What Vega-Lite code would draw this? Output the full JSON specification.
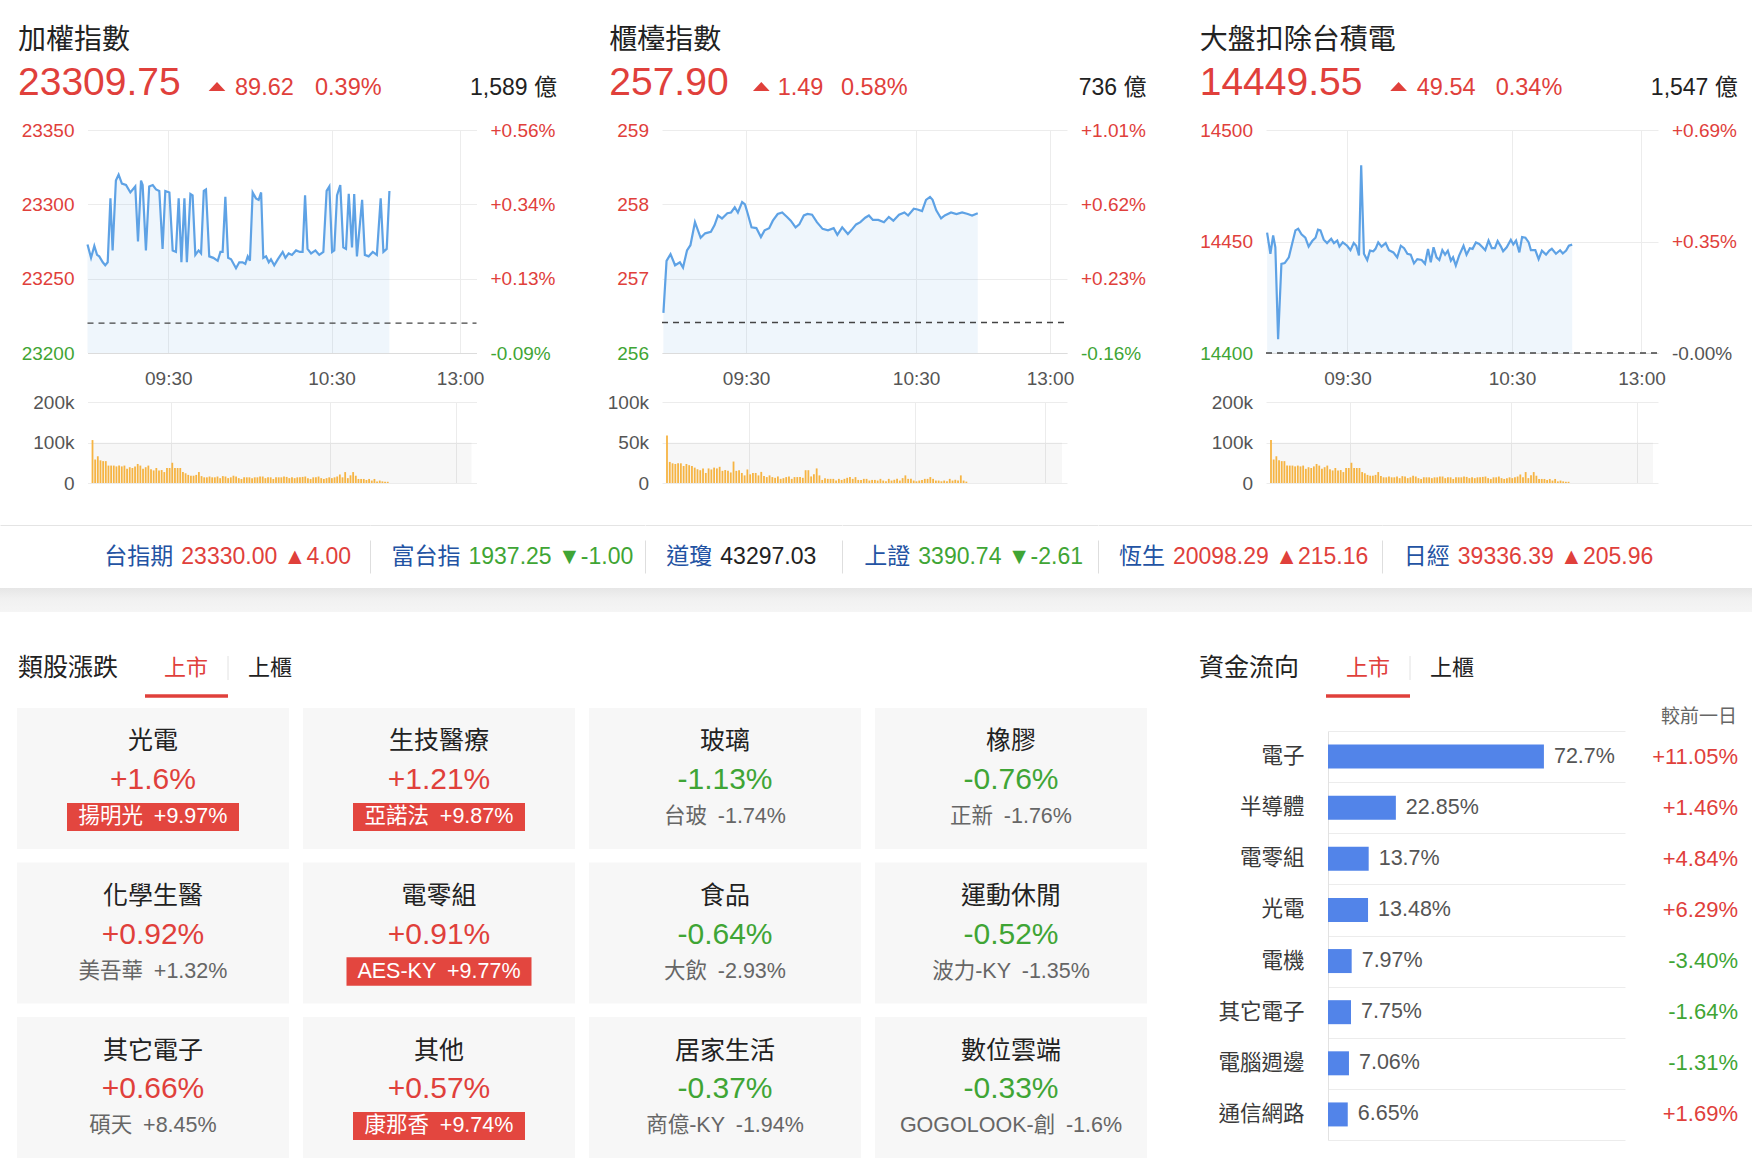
{
"$schema": "https://vega.github.io/schema/vega-lite/v6.json",
"padding": 0, "background": "#ffffff", "autosize": {"type": "pad"},
"bounds": "full", "spacing": 0,
"config": {"view": {"stroke": null}, "font": "Liberation Sans, Noto Sans CJK TC, sans-serif", "text": {"font": "Liberation Sans, Noto Sans CJK TC, sans-serif"}, "axis": {"labelFont": "Liberation Sans, Noto Sans CJK TC, sans-serif", "titleFont": "Liberation Sans, Noto Sans CJK TC, sans-serif"}},
"datasets": {
"p1": [{"m":0,"v":23273},{"m":1.3,"v":23264},{"m":2.5,"v":23272},{"m":3.5,"v":23266},{"m":4.3,"v":23265},{"m":5.6,"v":23261},{"m":6.5,"v":23259},{"m":7.4,"v":23261},{"m":8.4,"v":23304},{"m":9.2,"v":23269},{"m":10.4,"v":23316},{"m":11.4,"v":23320},{"m":12.6,"v":23314},{"m":14.1,"v":23313},{"m":15.7,"v":23308},{"m":17.5,"v":23312},{"m":18.5,"v":23275},{"m":19.6,"v":23316},{"m":20.2,"v":23313},{"m":21.4,"v":23269},{"m":22.6,"v":23312},{"m":23.9,"v":23313},{"m":25.1,"v":23310},{"m":26.3,"v":23309},{"m":27.5,"v":23270},{"m":28.5,"v":23309},{"m":30,"v":23308},{"m":31.2,"v":23269},{"m":32.4,"v":23268},{"m":33.4,"v":23304},{"m":34.4,"v":23261},{"m":35.5,"v":23304},{"m":36.4,"v":23261},{"m":37.7,"v":23307},{"m":38.5,"v":23306},{"m":39.5,"v":23266},{"m":40.7,"v":23269},{"m":41.6,"v":23267},{"m":42.6,"v":23309},{"m":43.4,"v":23310},{"m":44.6,"v":23265},{"m":46.1,"v":23264},{"m":47.7,"v":23262},{"m":48.7,"v":23268},{"m":49.5,"v":23268},{"m":50.5,"v":23305},{"m":51.5,"v":23264},{"m":52.6,"v":23263},{"m":54.4,"v":23257},{"m":55.6,"v":23261},{"m":56.8,"v":23261},{"m":57.8,"v":23260},{"m":58.7,"v":23265},{"m":59.5,"v":23262},{"m":60.5,"v":23308},{"m":61.7,"v":23304},{"m":62.7,"v":23303},{"m":63.6,"v":23308},{"m":64.4,"v":23264},{"m":65.4,"v":23265},{"m":66.4,"v":23261},{"m":67.2,"v":23263},{"m":68.4,"v":23259},{"m":69.7,"v":23263},{"m":71.5,"v":23268},{"m":72.5,"v":23264},{"m":73.7,"v":23267},{"m":74.9,"v":23266},{"m":76.4,"v":23269},{"m":77.8,"v":23268},{"m":78.8,"v":23268},{"m":79.7,"v":23306},{"m":80.6,"v":23270},{"m":81.9,"v":23267},{"m":83.5,"v":23269},{"m":84.9,"v":23266},{"m":86.4,"v":23268},{"m":87.6,"v":23309},{"m":88.6,"v":23312},{"m":89.6,"v":23268},{"m":90.4,"v":23269},{"m":91.4,"v":23306},{"m":92.6,"v":23313},{"m":93.7,"v":23271},{"m":94.7,"v":23270},{"m":95.7,"v":23307},{"m":96.9,"v":23271},{"m":97.7,"v":23307},{"m":98.7,"v":23265},{"m":100.6,"v":23303},{"m":101.6,"v":23266},{"m":103,"v":23265},{"m":104.5,"v":23268},{"m":106,"v":23266},{"m":107.4,"v":23304},{"m":108.4,"v":23268},{"m":109.6,"v":23270},{"m":110.6,"v":23309}],
"p2": [{"m":0.5,"v":256.54},{"m":1.6,"v":257.24},{"m":3,"v":257.33},{"m":4.6,"v":257.18},{"m":6.3,"v":257.22},{"m":7.4,"v":257.15},{"m":8.8,"v":257.38},{"m":10,"v":257.45},{"m":11.6,"v":257.76},{"m":13.6,"v":257.55},{"m":15.2,"v":257.61},{"m":17.2,"v":257.63},{"m":18.5,"v":257.72},{"m":19.7,"v":257.85},{"m":21.1,"v":257.81},{"m":23,"v":257.88},{"m":24.3,"v":257.89},{"m":25.6,"v":257.96},{"m":26.7,"v":257.89},{"m":28.2,"v":258.03},{"m":29.2,"v":258.0},{"m":30.2,"v":257.87},{"m":31.5,"v":257.69},{"m":33.2,"v":257.68},{"m":34.8,"v":257.56},{"m":36.1,"v":257.65},{"m":37.7,"v":257.68},{"m":39,"v":257.78},{"m":40.7,"v":257.87},{"m":42.3,"v":257.89},{"m":44,"v":257.83},{"m":45.3,"v":257.78},{"m":47,"v":257.69},{"m":48.3,"v":257.73},{"m":49.9,"v":257.85},{"m":51.2,"v":257.87},{"m":52.8,"v":257.86},{"m":54.5,"v":257.76},{"m":56.5,"v":257.67},{"m":58.4,"v":257.65},{"m":60.4,"v":257.68},{"m":61.7,"v":257.59},{"m":63.4,"v":257.69},{"m":65.4,"v":257.6},{"m":67,"v":257.67},{"m":68.3,"v":257.73},{"m":69.8,"v":257.76},{"m":71.5,"v":257.82},{"m":72.8,"v":257.85},{"m":74.2,"v":257.79},{"m":76.1,"v":257.79},{"m":78.1,"v":257.76},{"m":79.8,"v":257.83},{"m":81.4,"v":257.78},{"m":83.4,"v":257.86},{"m":85.3,"v":257.89},{"m":86.6,"v":257.85},{"m":88.6,"v":257.94},{"m":89.9,"v":257.93},{"m":91.5,"v":257.91},{"m":92.9,"v":258.06},{"m":94.3,"v":258.1},{"m":95.2,"v":258.06},{"m":96.5,"v":257.92},{"m":98.2,"v":257.81},{"m":99.5,"v":257.85},{"m":101.7,"v":257.89},{"m":103.6,"v":257.87},{"m":105.6,"v":257.89},{"m":107.6,"v":257.87},{"m":109.1,"v":257.85},{"m":111.1,"v":257.88}],
"p3": [{"m":0.4,"v":14454},{"m":1.6,"v":14444.5},{"m":2.6,"v":14452.7},{"m":3.4,"v":14447.4},{"m":4.4,"v":14406.2},{"m":5.6,"v":14440},{"m":6.8,"v":14440.3},{"m":8.3,"v":14442.9},{"m":9.5,"v":14449},{"m":10.7,"v":14455},{"m":11.7,"v":14455.7},{"m":12.9,"v":14453.2},{"m":14.3,"v":14451.7},{"m":15.5,"v":14447.7},{"m":16.8,"v":14450.2},{"m":18,"v":14451.7},{"m":18.9,"v":14455.3},{"m":19.8,"v":14455},{"m":21,"v":14450.8},{"m":22.2,"v":14449.3},{"m":23.7,"v":14451.2},{"m":24.7,"v":14449.3},{"m":25.9,"v":14450.4},{"m":26.7,"v":14447.7},{"m":27.9,"v":14449.6},{"m":29.5,"v":14448.1},{"m":30.7,"v":14446.1},{"m":31.9,"v":14449.3},{"m":32.8,"v":14448.1},{"m":33.8,"v":14443.7},{"m":34.6,"v":14484.2},{"m":35.6,"v":14444.5},{"m":36.8,"v":14441.7},{"m":37.8,"v":14445.9},{"m":39,"v":14445.6},{"m":39.8,"v":14446.7},{"m":40.8,"v":14449.6},{"m":42,"v":14447.7},{"m":43.5,"v":14449.3},{"m":44.7,"v":14446.1},{"m":46.3,"v":14445.1},{"m":47.7,"v":14442.9},{"m":49,"v":14448.1},{"m":50.2,"v":14447},{"m":51.4,"v":14444.5},{"m":52.6,"v":14444.1},{"m":53.8,"v":14440.2},{"m":55,"v":14442.1},{"m":56.6,"v":14441.7},{"m":57.8,"v":14440},{"m":58.9,"v":14446.7},{"m":59.9,"v":14440.7},{"m":60.9,"v":14447.4},{"m":62,"v":14442.9},{"m":63,"v":14441.7},{"m":64.1,"v":14446.1},{"m":65.1,"v":14444.1},{"m":66.1,"v":14445.9},{"m":67.2,"v":14441.4},{"m":68,"v":14442.9},{"m":69,"v":14439.2},{"m":70.2,"v":14443.7},{"m":71.8,"v":14448.1},{"m":72.9,"v":14444.1},{"m":74.1,"v":14447},{"m":75.1,"v":14446.7},{"m":76.3,"v":14449.6},{"m":77.5,"v":14448.9},{"m":78.7,"v":14447.4},{"m":79.7,"v":14446.1},{"m":80.9,"v":14450.4},{"m":82.1,"v":14447},{"m":83.2,"v":14447},{"m":84.2,"v":14450.2},{"m":85.4,"v":14447.7},{"m":86.2,"v":14445.6},{"m":87.5,"v":14447.4},{"m":89,"v":14450.8},{"m":89.9,"v":14448.7},{"m":90.9,"v":14450.4},{"m":92.1,"v":14445.1},{"m":93.1,"v":14452},{"m":94.3,"v":14451.7},{"m":95.5,"v":14449.6},{"m":96.3,"v":14446.1},{"m":97.9,"v":14446.1},{"m":99.1,"v":14442.1},{"m":100.3,"v":14445.9},{"m":101.8,"v":14444.1},{"m":103,"v":14445.9},{"m":103.9,"v":14446.7},{"m":105.4,"v":14444.5},{"m":106.9,"v":14446.1},{"m":107.9,"v":14444.6},{"m":109.1,"v":14445.9},{"m":110.1,"v":14448.1},{"m":111.3,"v":14448.6}],
"vol1": [{"m":0,"k":106},{"m":1,"k":58},{"m":2,"k":66},{"m":3,"k":56},{"m":4,"k":54},{"m":5,"k":54},{"m":6,"k":43},{"m":7,"k":43},{"m":8,"k":43},{"m":9,"k":41},{"m":10,"k":43},{"m":11,"k":41},{"m":12,"k":43},{"m":13,"k":35},{"m":14,"k":39},{"m":15,"k":37},{"m":16,"k":41},{"m":17,"k":47},{"m":18,"k":43},{"m":19,"k":35},{"m":20,"k":39},{"m":21,"k":43},{"m":22,"k":34},{"m":23,"k":31},{"m":24,"k":37},{"m":25,"k":31},{"m":26,"k":32},{"m":27,"k":27},{"m":28,"k":37},{"m":29,"k":37},{"m":30,"k":50},{"m":31,"k":37},{"m":32,"k":37},{"m":33,"k":37},{"m":34,"k":27},{"m":35,"k":24},{"m":36,"k":20},{"m":37,"k":18},{"m":38,"k":18},{"m":39,"k":20},{"m":40,"k":27},{"m":41,"k":17},{"m":42,"k":14},{"m":43,"k":14},{"m":44,"k":16},{"m":45,"k":14},{"m":46,"k":14},{"m":47,"k":16},{"m":48,"k":12},{"m":49,"k":17},{"m":50,"k":16},{"m":51,"k":12},{"m":52,"k":14},{"m":53,"k":18},{"m":54,"k":16},{"m":55,"k":12},{"m":56,"k":10},{"m":57,"k":14},{"m":58,"k":14},{"m":59,"k":14},{"m":60,"k":12},{"m":61,"k":14},{"m":62,"k":14},{"m":63,"k":16},{"m":64,"k":16},{"m":65,"k":12},{"m":66,"k":14},{"m":67,"k":14},{"m":68,"k":10},{"m":69,"k":14},{"m":70,"k":14},{"m":71,"k":14},{"m":72,"k":16},{"m":73,"k":15},{"m":74,"k":12},{"m":75,"k":14},{"m":76,"k":12},{"m":77,"k":14},{"m":78,"k":14},{"m":79,"k":15},{"m":80,"k":16},{"m":81,"k":12},{"m":82,"k":10},{"m":83,"k":14},{"m":84,"k":14},{"m":85,"k":16},{"m":86,"k":12},{"m":87,"k":10},{"m":88,"k":12},{"m":89,"k":14},{"m":90,"k":12},{"m":91,"k":14},{"m":92,"k":16},{"m":93,"k":21},{"m":94,"k":14},{"m":95,"k":27},{"m":96,"k":12},{"m":97,"k":19},{"m":98,"k":27},{"m":99,"k":18},{"m":100,"k":10},{"m":101,"k":10},{"m":102,"k":10},{"m":103,"k":7.5},{"m":104,"k":10},{"m":105,"k":6},{"m":106,"k":10},{"m":107,"k":4},{"m":108,"k":6},{"m":109,"k":4},{"m":110,"k":3},{"m":111,"k":3}],
"vol2": [{"m":0,"k":58.5},{"m":1,"k":26},{"m":2,"k":24.3},{"m":3,"k":23.5},{"m":4,"k":24.3},{"m":5,"k":24.3},{"m":6,"k":21},{"m":7,"k":23.5},{"m":8,"k":22},{"m":9,"k":21},{"m":10,"k":19},{"m":11,"k":17},{"m":12,"k":15.8},{"m":13,"k":18},{"m":14,"k":12.4},{"m":15,"k":18},{"m":16,"k":16.7},{"m":17,"k":19},{"m":18,"k":18},{"m":19,"k":20},{"m":20,"k":15},{"m":21,"k":16},{"m":22,"k":15},{"m":23,"k":13},{"m":24,"k":26.5},{"m":25,"k":15},{"m":26,"k":15.8},{"m":27,"k":12.4},{"m":28,"k":9.4},{"m":29,"k":16.7},{"m":30,"k":10.7},{"m":31,"k":12.4},{"m":32,"k":12.4},{"m":33,"k":9.4},{"m":34,"k":13.7},{"m":35,"k":8.5},{"m":36,"k":7.3},{"m":37,"k":9.4},{"m":38,"k":7.3},{"m":39,"k":6.4},{"m":40,"k":8.1},{"m":41,"k":5.1},{"m":42,"k":6},{"m":43,"k":7.3},{"m":44,"k":8.1},{"m":45,"k":5.1},{"m":46,"k":7.3},{"m":47,"k":7.3},{"m":48,"k":7.3},{"m":49,"k":6.4},{"m":50,"k":15.8},{"m":51,"k":15.8},{"m":52,"k":8.1},{"m":53,"k":10.7},{"m":54,"k":18},{"m":55,"k":9.4},{"m":56,"k":3.8},{"m":57,"k":6},{"m":58,"k":5.1},{"m":59,"k":5.1},{"m":60,"k":5.1},{"m":61,"k":3},{"m":62,"k":5.1},{"m":63,"k":3.8},{"m":64,"k":5.1},{"m":65,"k":6.4},{"m":66,"k":7.3},{"m":67,"k":5.1},{"m":68,"k":7.3},{"m":69,"k":3.8},{"m":70,"k":3.8},{"m":71,"k":5.1},{"m":72,"k":5.1},{"m":73,"k":3},{"m":74,"k":3.8},{"m":75,"k":3.8},{"m":76,"k":3},{"m":77,"k":5.1},{"m":78,"k":3},{"m":79,"k":2.1},{"m":80,"k":5.1},{"m":81,"k":3},{"m":82,"k":4},{"m":83,"k":5.1},{"m":84,"k":3},{"m":85,"k":6},{"m":86,"k":9.4},{"m":87,"k":5.1},{"m":88,"k":5.1},{"m":89,"k":3},{"m":90,"k":2.1},{"m":91,"k":3},{"m":92,"k":3.8},{"m":93,"k":5.1},{"m":94,"k":5.1},{"m":95,"k":7.3},{"m":96,"k":5.1},{"m":97,"k":3},{"m":98,"k":3},{"m":99,"k":2.1},{"m":100,"k":3},{"m":101,"k":2.1},{"m":102,"k":5.1},{"m":103,"k":3},{"m":104,"k":4},{"m":105,"k":3},{"m":106,"k":9.4},{"m":107,"k":3},{"m":108,"k":1.7}],
"sectors": [
{"name":"光電","pct":1.6,"pl":"+1.6%","lead":"揚明光\u2002+9.97%","box":true},
{"name":"生技醫療","pct":1.21,"pl":"+1.21%","lead":"亞諾法\u2002+9.87%","box":true},
{"name":"玻璃","pct":-1.13,"pl":"-1.13%","lead":"台玻\u2002-1.74%","box":false},
{"name":"橡膠","pct":-0.76,"pl":"-0.76%","lead":"正新\u2002-1.76%","box":false},
{"name":"化學生醫","pct":0.92,"pl":"+0.92%","lead":"美吾華\u2002+1.32%","box":false},
{"name":"電零組","pct":0.91,"pl":"+0.91%","lead":"AES-KY\u2002+9.77%","box":true},
{"name":"食品","pct":-0.64,"pl":"-0.64%","lead":"大飲\u2002-2.93%","box":false},
{"name":"運動休閒","pct":-0.52,"pl":"-0.52%","lead":"波力-KY\u2002-1.35%","box":false},
{"name":"其它電子","pct":0.66,"pl":"+0.66%","lead":"碩天\u2002+8.45%","box":false},
{"name":"其他","pct":0.57,"pl":"+0.57%","lead":"康那香\u2002+9.74%","box":true},
{"name":"居家生活","pct":-0.37,"pl":"-0.37%","lead":"商億-KY\u2002-1.94%","box":false},
{"name":"數位雲端","pct":-0.33,"pl":"-0.33%","lead":"GOGOLOOK-創\u2002-1.6%","box":false}],
"flow": [
{"s":"電子","share":72.7,"sl":"72.7%","chg":11.05,"cl":"+11.05%"},
{"s":"半導體","share":22.85,"sl":"22.85%","chg":1.46,"cl":"+1.46%"},
{"s":"電零組","share":13.7,"sl":"13.7%","chg":4.84,"cl":"+4.84%"},
{"s":"光電","share":13.48,"sl":"13.48%","chg":6.29,"cl":"+6.29%"},
{"s":"電機","share":7.97,"sl":"7.97%","chg":-3.4,"cl":"-3.40%"},
{"s":"其它電子","share":7.75,"sl":"7.75%","chg":-1.64,"cl":"-1.64%"},
{"s":"電腦週邊","share":7.06,"sl":"7.06%","chg":-1.31,"cl":"-1.31%"},
{"s":"通信網路","share":6.65,"sl":"6.65%","chg":1.69,"cl":"+1.69%"}]
},
"vconcat": [
{"hconcat": [
 {"vconcat": [
  {"width": 584, "height": 223, "resolve": {"axis": {"y": "independent"}}, "layer": [
   {"data": {"name": "p1"}, "mark": {"type": "area", "color": "#5ea2e5", "opacity": 0.1}, "encoding": {
     "x": {"field": "m", "type": "quantitative", "scale": {"domain": [0, 142.5], "range": [87.5, 476.5], "nice": false, "zero": false}, "axis": {"values": [29.6, 89.4, 136.5], "labelExpr": "datum.value < 50 ? '09:30' : datum.value < 100 ? '10:30' : '13:00'", "title": null, "ticks": false, "domain": true, "domainColor": "#dcdcdc", "grid": true, "gridColor": "#ececec", "labelFontSize": 19, "labelColor": "#555555", "labelPadding": 16, "labelFlush": false, "labelOverlap": false}},
     "y": {"field": "v", "type": "quantitative", "scale": {"domain": [23200, 23350], "nice": false, "zero": false}, "axis": {"orient": "left", "offset": -87.5, "values": [23200, 23250, 23300, 23350], "format": "d", "title": null, "ticks": false, "domain": false, "grid": true, "gridColor": "#ececec", "labelFontSize": 19, "labelPadding": 13.5, "labelOverlap": false, "labelColor": {"condition": {"test": "datum.value < 23220.13", "value": "#3fa535"}, "value": "#e0403b"}}},
     "y2": {"datum": 23200}}},
   {"data": {"name": "p1"}, "mark": {"type": "line", "color": "#5ea2e5", "strokeWidth": 2.2}, "encoding": {
     "x": {"field": "m", "type": "quantitative"},
     "y": {"field": "v", "type": "quantitative", "scale": {"domain": [23200, 23350], "nice": false, "zero": false}, "axis": {"orient": "right", "offset": -107.5, "values": [23200, 23250, 23300, 23350], "title": null, "ticks": false, "domain": false, "grid": false, "labelFontSize": 19, "labelPadding": 13.5, "labelOverlap": false, "labelExpr": "replace(format((datum.value - 23220.13) / 23220.13 * 100, '+.2f'), '\u2212', '-') + '%'", "labelColor": {"condition": {"test": "datum.value < 23220.13", "value": "#3fa535"}, "value": "#e0403b"}}}}},
   {"data": {"values": [{}]}, "mark": {"type": "rule", "color": "#444444", "strokeDash": [6, 5], "strokeWidth": 1.3}, "encoding": {"x": {"datum": 0}, "x2": {"datum": 142.5}, "y": {"datum": 23220.13, "axis": null}}},
   {"data": {"values": [{}]}, "mark": {"type": "rule", "opacity": 0}, "encoding": {"x": {"value": 0}, "x2": {"value": 10}, "y": {"value": -130}}},
   {"data": {"values": [{"t": "加權指數"}]}, "mark": {"type": "text", "align": "left", "baseline": "middle", "fontSize": 28, "color": "#222222"}, "encoding": {"text": {"field": "t"}, "x": {"value": 18}, "y": {"value": -89}}},
   {"data": {"values": [{"t": "23309.75"}]}, "mark": {"type": "text", "align": "left", "baseline": "alphabetic", "fontSize": 39, "color": "#e0403b"}, "encoding": {"text": {"field": "t"}, "x": {"value": 18}, "y": {"value": -35}}},
   {"data": {"values": [{}]}, "mark": {"type": "point", "shape": "M-1,0.55L0,-0.55L1,0.55Z", "size": 280, "filled": true, "opacity": 1, "color": "#e0403b", "strokeWidth": 0}, "encoding": {"x": {"value": 217}, "y": {"value": -43.5}}},
   {"data": {"values": [{"t": "89.62"}]}, "mark": {"type": "text", "align": "left", "baseline": "alphabetic", "fontSize": 23.5, "color": "#e0403b"}, "encoding": {"text": {"field": "t"}, "x": {"value": 235}, "y": {"value": -35}}},
   {"data": {"values": [{"t": "0.39%"}]}, "mark": {"type": "text", "align": "left", "baseline": "alphabetic", "fontSize": 23.5, "color": "#e0403b"}, "encoding": {"text": {"field": "t"}, "x": {"value": 315}, "y": {"value": -35}}},
   {"data": {"values": [{"t": "1,589 億"}]}, "mark": {"type": "text", "align": "right", "baseline": "alphabetic", "fontSize": 23, "color": "#222222"}, "encoding": {"text": {"field": "t"}, "x": {"value": 557}, "y": {"value": -35}}}
  ]},
  {"width": 584, "height": 81, "layer": [
   {"data": {"values": [{}]}, "mark": {"type": "rect", "color": "#000000", "opacity": 0.03}, "encoding": {
     "x": {"datum": 0, "type": "quantitative", "scale": {"domain": [0, 142.5], "range": [87.5, 476.5], "nice": false, "zero": false}, "axis": {"values": [29.6, 89.4, 136.5], "labels": false, "ticks": false, "domain": false, "grid": true, "gridColor": "#ececec", "title": null}},
     "x2": {"datum": 142.5},
     "y": {"datum": 0, "type": "quantitative", "scale": {"domain": [0, 200], "nice": false}, "axis": {"offset": -87.5, "values": [0, 100, 200], "labelExpr": "datum.value == 0 ? '0' : datum.value + 'k'", "title": null, "ticks": false, "domain": false, "grid": true, "gridColor": "#ececec", "labelFontSize": 19, "labelColor": "#555555", "labelPadding": 13.5, "labelOverlap": false}},
     "y2": {"datum": 100}}},
   {"data": {"name": "vol1"}, "mark": {"type": "bar", "color": "#f6b443", "width": 1.8}, "encoding": {"x": {"field": "m", "type": "quantitative"}, "y": {"field": "k", "type": "quantitative"}}},
   {"data": {"values": [{}]}, "mark": {"type": "rule", "opacity": 0}, "encoding": {"x": {"value": 0}, "x2": {"value": 10}, "y": {"value": 123}}}
  ]}
 ], "spacing": 49, "bounds": "flush"},
 {"vconcat": [
  {"width": 584, "height": 223, "resolve": {"axis": {"y": "independent"}}, "layer": [
   {"data": {"name": "p2"}, "mark": {"type": "area", "color": "#5ea2e5", "opacity": 0.1}, "encoding": {
     "x": {"field": "m", "type": "quantitative", "scale": {"domain": [0, 142.5], "range": [78, 483], "nice": false, "zero": false}, "axis": {"values": [29.6, 89.4, 136.5], "labelExpr": "datum.value < 50 ? '09:30' : datum.value < 100 ? '10:30' : '13:00'", "title": null, "ticks": false, "domain": true, "domainColor": "#dcdcdc", "grid": true, "gridColor": "#ececec", "labelFontSize": 19, "labelColor": "#555555", "labelPadding": 16, "labelFlush": false, "labelOverlap": false}},
     "y": {"field": "v", "type": "quantitative", "scale": {"domain": [256, 259], "nice": false, "zero": false}, "axis": {"orient": "left", "offset": -78, "values": [256, 257, 258, 259], "format": "d", "title": null, "ticks": false, "domain": false, "grid": true, "gridColor": "#ececec", "labelFontSize": 19, "labelPadding": 13.5, "labelOverlap": false, "labelColor": {"condition": {"test": "datum.value < 256.41", "value": "#3fa535"}, "value": "#e0403b"}}},
     "y2": {"datum": 256}}},
   {"data": {"name": "p2"}, "mark": {"type": "line", "color": "#5ea2e5", "strokeWidth": 2.2}, "encoding": {
     "x": {"field": "m", "type": "quantitative"},
     "y": {"field": "v", "type": "quantitative", "scale": {"domain": [256, 259], "nice": false, "zero": false}, "axis": {"orient": "right", "offset": -101, "values": [256, 257, 258, 259], "title": null, "ticks": false, "domain": false, "grid": false, "labelFontSize": 19, "labelPadding": 13.5, "labelOverlap": false, "labelExpr": "replace(format((datum.value - 256.41) / 256.41 * 100, '+.2f'), '\u2212', '-') + '%'", "labelColor": {"condition": {"test": "datum.value < 256.41", "value": "#3fa535"}, "value": "#e0403b"}}}}},
   {"data": {"values": [{}]}, "mark": {"type": "rule", "color": "#444444", "strokeDash": [6, 5], "strokeWidth": 1.3}, "encoding": {"x": {"datum": 0}, "x2": {"datum": 142.5}, "y": {"datum": 256.41, "axis": null}}},
   {"data": {"values": [{}]}, "mark": {"type": "rule", "opacity": 0}, "encoding": {"x": {"value": 0}, "x2": {"value": 10}, "y": {"value": -130}}},
   {"data": {"values": [{"t": "櫃檯指數"}]}, "mark": {"type": "text", "align": "left", "baseline": "middle", "fontSize": 28, "color": "#222222"}, "encoding": {"text": {"field": "t"}, "x": {"value": 25.3}, "y": {"value": -89}}},
   {"data": {"values": [{"t": "257.90"}]}, "mark": {"type": "text", "align": "left", "baseline": "alphabetic", "fontSize": 39, "color": "#e0403b"}, "encoding": {"text": {"field": "t"}, "x": {"value": 25.3}, "y": {"value": -35}}},
   {"data": {"values": [{}]}, "mark": {"type": "point", "shape": "M-1,0.55L0,-0.55L1,0.55Z", "size": 280, "filled": true, "opacity": 1, "color": "#e0403b", "strokeWidth": 0}, "encoding": {"x": {"value": 177.3}, "y": {"value": -43.5}}},
   {"data": {"values": [{"t": "1.49"}]}, "mark": {"type": "text", "align": "left", "baseline": "alphabetic", "fontSize": 23.5, "color": "#e0403b"}, "encoding": {"text": {"field": "t"}, "x": {"value": 193.7}, "y": {"value": -35}}},
   {"data": {"values": [{"t": "0.58%"}]}, "mark": {"type": "text", "align": "left", "baseline": "alphabetic", "fontSize": 23.5, "color": "#e0403b"}, "encoding": {"text": {"field": "t"}, "x": {"value": 257}, "y": {"value": -35}}},
   {"data": {"values": [{"t": "736 億"}]}, "mark": {"type": "text", "align": "right", "baseline": "alphabetic", "fontSize": 23, "color": "#222222"}, "encoding": {"text": {"field": "t"}, "x": {"value": 562.4}, "y": {"value": -35}}}
  ]},
  {"width": 584, "height": 81, "layer": [
   {"data": {"values": [{}]}, "mark": {"type": "rect", "color": "#000000", "opacity": 0.03}, "encoding": {
     "x": {"datum": 0, "type": "quantitative", "scale": {"domain": [0, 142.5], "range": [78, 483], "nice": false, "zero": false}, "axis": {"values": [29.6, 89.4, 136.5], "labels": false, "ticks": false, "domain": false, "grid": true, "gridColor": "#ececec", "title": null}},
     "x2": {"datum": 142.5},
     "y": {"datum": 0, "type": "quantitative", "scale": {"domain": [0, 100], "nice": false}, "axis": {"offset": -78, "values": [0, 50, 100], "labelExpr": "datum.value == 0 ? '0' : datum.value + 'k'", "title": null, "ticks": false, "domain": false, "grid": true, "gridColor": "#ececec", "labelFontSize": 19, "labelColor": "#555555", "labelPadding": 13.5, "labelOverlap": false}},
     "y2": {"datum": 50}}},
   {"data": {"name": "vol2"}, "mark": {"type": "bar", "color": "#f6b443", "width": 1.8}, "encoding": {"x": {"field": "m", "type": "quantitative"}, "y": {"field": "k", "type": "quantitative"}}},
   {"data": {"values": [{}]}, "mark": {"type": "rule", "opacity": 0}, "encoding": {"x": {"value": 0}, "x2": {"value": 10}, "y": {"value": 123}}}
  ]}
 ], "spacing": 49, "bounds": "flush"},
 {"vconcat": [
  {"width": 584, "height": 223, "resolve": {"axis": {"y": "independent"}}, "layer": [
   {"data": {"name": "p3"}, "mark": {"type": "area", "color": "#5ea2e5", "opacity": 0.1}, "encoding": {
     "x": {"field": "m", "type": "quantitative", "scale": {"domain": [0, 142.5], "range": [98, 490], "nice": false, "zero": false}, "axis": {"values": [29.6, 89.4, 136.5], "labelExpr": "datum.value < 50 ? '09:30' : datum.value < 100 ? '10:30' : '13:00'", "title": null, "ticks": false, "domain": true, "domainColor": "#dcdcdc", "grid": true, "gridColor": "#ececec", "labelFontSize": 19, "labelColor": "#555555", "labelPadding": 16, "labelFlush": false, "labelOverlap": false}},
     "y": {"field": "v", "type": "quantitative", "scale": {"domain": [14400, 14500], "nice": false, "zero": false}, "axis": {"orient": "left", "offset": -98, "values": [14400, 14450, 14500], "format": "d", "title": null, "ticks": false, "domain": false, "grid": true, "gridColor": "#ececec", "labelFontSize": 19, "labelPadding": 13.5, "labelOverlap": false, "labelColor": {"condition": {"test": "datum.value < 14400.01", "value": "#3fa535"}, "value": "#e0403b"}}},
     "y2": {"datum": 14400}}},
   {"data": {"name": "p3"}, "mark": {"type": "line", "color": "#5ea2e5", "strokeWidth": 2.2}, "encoding": {
     "x": {"field": "m", "type": "quantitative"},
     "y": {"field": "v", "type": "quantitative", "scale": {"domain": [14400, 14500], "nice": false, "zero": false}, "axis": {"orient": "right", "offset": -94, "values": [14400, 14450, 14500], "title": null, "ticks": false, "domain": false, "grid": false, "labelFontSize": 19, "labelPadding": 13.5, "labelOverlap": false, "labelExpr": "replace(format((datum.value - 14400.01) / 14400.01 * 100, '+.2f'), '\u2212', '-') + '%'", "labelColor": {"condition": {"test": "datum.value < 14420", "value": "#555555"}, "value": "#e0403b"}}}}},
   {"data": {"values": [{}]}, "mark": {"type": "rule", "color": "#444444", "strokeDash": [6, 5], "strokeWidth": 1.3}, "encoding": {"x": {"datum": 0}, "x2": {"datum": 142.5}, "y": {"datum": 14400.01, "axis": null}}},
   {"data": {"values": [{}]}, "mark": {"type": "rule", "opacity": 0}, "encoding": {"x": {"value": 0}, "x2": {"value": 10}, "y": {"value": -130}}},
   {"data": {"values": [{"t": "大盤扣除台積電"}]}, "mark": {"type": "text", "align": "left", "baseline": "middle", "fontSize": 28, "color": "#222222"}, "encoding": {"text": {"field": "t"}, "x": {"value": 31.7}, "y": {"value": -89}}},
   {"data": {"values": [{"t": "14449.55"}]}, "mark": {"type": "text", "align": "left", "baseline": "alphabetic", "fontSize": 39, "color": "#e0403b"}, "encoding": {"text": {"field": "t"}, "x": {"value": 31.7}, "y": {"value": -35}}},
   {"data": {"values": [{}]}, "mark": {"type": "point", "shape": "M-1,0.55L0,-0.55L1,0.55Z", "size": 280, "filled": true, "opacity": 1, "color": "#e0403b", "strokeWidth": 0}, "encoding": {"x": {"value": 230.6}, "y": {"value": -43.5}}},
   {"data": {"values": [{"t": "49.54"}]}, "mark": {"type": "text", "align": "left", "baseline": "alphabetic", "fontSize": 23.5, "color": "#e0403b"}, "encoding": {"text": {"field": "t"}, "x": {"value": 248.8}, "y": {"value": -35}}},
   {"data": {"values": [{"t": "0.34%"}]}, "mark": {"type": "text", "align": "left", "baseline": "alphabetic", "fontSize": 23.5, "color": "#e0403b"}, "encoding": {"text": {"field": "t"}, "x": {"value": 327.7}, "y": {"value": -35}}},
   {"data": {"values": [{"t": "1,547 億"}]}, "mark": {"type": "text", "align": "right", "baseline": "alphabetic", "fontSize": 23, "color": "#222222"}, "encoding": {"text": {"field": "t"}, "x": {"value": 569.8}, "y": {"value": -35}}}
  ]},
  {"width": 584, "height": 81, "layer": [
   {"data": {"values": [{}]}, "mark": {"type": "rect", "color": "#000000", "opacity": 0.03}, "encoding": {
     "x": {"datum": 0, "type": "quantitative", "scale": {"domain": [0, 142.5], "range": [98, 490], "nice": false, "zero": false}, "axis": {"values": [29.6, 89.4, 136.5], "labels": false, "ticks": false, "domain": false, "grid": true, "gridColor": "#ececec", "title": null}},
     "x2": {"datum": 142.5},
     "y": {"datum": 0, "type": "quantitative", "scale": {"domain": [0, 200], "nice": false}, "axis": {"offset": -98, "values": [0, 100, 200], "labelExpr": "datum.value == 0 ? '0' : datum.value + 'k'", "title": null, "ticks": false, "domain": false, "grid": true, "gridColor": "#ececec", "labelFontSize": 19, "labelColor": "#555555", "labelPadding": 13.5, "labelOverlap": false}},
     "y2": {"datum": 100}}},
   {"data": {"name": "vol1"}, "mark": {"type": "bar", "color": "#f6b443", "width": 1.8}, "encoding": {"x": {"field": "m", "type": "quantitative"}, "y": {"field": "k", "type": "quantitative"}}},
   {"data": {"values": [{}]}, "mark": {"type": "rule", "opacity": 0}, "encoding": {"x": {"value": 0}, "x2": {"value": 10}, "y": {"value": 123}}}
  ]}
 ], "spacing": 49, "bounds": "flush"}
], "spacing": 0, "bounds": "full"},
{"hconcat": [
 {"width": 370, "height": 63, "data": {"values": [{"n": "台指期", "val": "23330.00 ▲4.00", "d": "up"}]}, "layer": [
  {"mark": {"type": "text", "align": "right", "baseline": "middle", "fontSize": 23, "color": "#2353a3", "dx": -11.7}, "encoding": {"text": {"field": "n"},
   "x": {"datum": 0.5, "type": "quantitative", "scale": {"domain": [0, 1]}, "axis": {"orient": "top", "domain": true, "domainColor": "#e4e4e4", "domainWidth": 1, "labels": false, "ticks": false, "grid": false, "title": null}},
   "y": {"datum": 0.5, "type": "quantitative", "scale": {"domain": [0, 1], "range": [48, 15]}, "axis": null}}},
  {"mark": {"type": "text", "align": "left", "baseline": "middle", "fontSize": 23, "dx": -3.7}, "encoding": {"text": {"field": "val"}, "x": {"datum": 0.5, "type": "quantitative"}, "y": {"datum": 0.5, "type": "quantitative"},
   "color": {"field": "d", "type": "nominal", "scale": {"domain": ["up", "down", "flat"], "range": ["#e0403b", "#3fa535", "#222222"]}, "legend": null}}}
 ]},
 {"width": 274.5, "height": 63, "data": {"values": [{"n": "富台指", "val": "1937.25 ▼-1.00", "d": "down"}]}, "layer": [
  {"mark": {"type": "text", "align": "right", "baseline": "middle", "fontSize": 23, "color": "#2353a3", "dx": -46.75}, "encoding": {"text": {"field": "n"},
   "x": {"datum": 0.5, "type": "quantitative", "scale": {"domain": [0, 1]}, "axis": {"orient": "top", "domain": true, "domainColor": "#e4e4e4", "domainWidth": 1, "labels": false, "ticks": false, "grid": false, "title": null}},
   "y": {"datum": 0.5, "type": "quantitative", "scale": {"domain": [0, 1], "range": [48, 15]}, "axis": {"orient": "left", "domain": true, "domainColor": "#dedede", "labels": false, "ticks": false, "grid": false, "title": null}}}},
  {"mark": {"type": "text", "align": "left", "baseline": "middle", "fontSize": 23, "dx": -38.75}, "encoding": {"text": {"field": "val"}, "x": {"datum": 0.5, "type": "quantitative"}, "y": {"datum": 0.5, "type": "quantitative"},
   "color": {"field": "d", "type": "nominal", "scale": {"domain": ["up", "down", "flat"], "range": ["#e0403b", "#3fa535", "#222222"]}, "legend": null}}}
 ]},
 {"width": 196.5, "height": 63, "data": {"values": [{"n": "道瓊", "val": "43297.03", "d": "flat"}]}, "layer": [
  {"mark": {"type": "text", "align": "right", "baseline": "middle", "fontSize": 23, "color": "#2353a3", "dx": -30.95}, "encoding": {"text": {"field": "n"},
   "x": {"datum": 0.5, "type": "quantitative", "scale": {"domain": [0, 1]}, "axis": {"orient": "top", "domain": true, "domainColor": "#e4e4e4", "domainWidth": 1, "labels": false, "ticks": false, "grid": false, "title": null}},
   "y": {"datum": 0.5, "type": "quantitative", "scale": {"domain": [0, 1], "range": [48, 15]}, "axis": {"orient": "left", "domain": true, "domainColor": "#dedede", "labels": false, "ticks": false, "grid": false, "title": null}}}},
  {"mark": {"type": "text", "align": "left", "baseline": "middle", "fontSize": 23, "dx": -22.95}, "encoding": {"text": {"field": "val"}, "x": {"datum": 0.5, "type": "quantitative"}, "y": {"datum": 0.5, "type": "quantitative"},
   "color": {"field": "d", "type": "nominal", "scale": {"domain": ["up", "down", "flat"], "range": ["#e0403b", "#3fa535", "#222222"]}, "legend": null}}}
 ]},
 {"width": 255.5, "height": 63, "data": {"values": [{"n": "上證", "val": "3390.74 ▼-2.61", "d": "down"}]}, "layer": [
  {"mark": {"type": "text", "align": "right", "baseline": "middle", "fontSize": 23, "color": "#2353a3", "dx": -59.45}, "encoding": {"text": {"field": "n"},
   "x": {"datum": 0.5, "type": "quantitative", "scale": {"domain": [0, 1]}, "axis": {"orient": "top", "domain": true, "domainColor": "#e4e4e4", "domainWidth": 1, "labels": false, "ticks": false, "grid": false, "title": null}},
   "y": {"datum": 0.5, "type": "quantitative", "scale": {"domain": [0, 1], "range": [48, 15]}, "axis": {"orient": "left", "domain": true, "domainColor": "#dedede", "labels": false, "ticks": false, "grid": false, "title": null}}}},
  {"mark": {"type": "text", "align": "left", "baseline": "middle", "fontSize": 23, "dx": -51.45}, "encoding": {"text": {"field": "val"}, "x": {"datum": 0.5, "type": "quantitative"}, "y": {"datum": 0.5, "type": "quantitative"},
   "color": {"field": "d", "type": "nominal", "scale": {"domain": ["up", "down", "flat"], "range": ["#e0403b", "#3fa535", "#222222"]}, "legend": null}}}
 ]},
 {"width": 284, "height": 63, "data": {"values": [{"n": "恆生", "val": "20098.29 ▲215.16", "d": "up"}]}, "layer": [
  {"mark": {"type": "text", "align": "right", "baseline": "middle", "fontSize": 23, "color": "#2353a3", "dx": -75.1}, "encoding": {"text": {"field": "n"},
   "x": {"datum": 0.5, "type": "quantitative", "scale": {"domain": [0, 1]}, "axis": {"orient": "top", "domain": true, "domainColor": "#e4e4e4", "domainWidth": 1, "labels": false, "ticks": false, "grid": false, "title": null}},
   "y": {"datum": 0.5, "type": "quantitative", "scale": {"domain": [0, 1], "range": [48, 15]}, "axis": {"orient": "left", "domain": true, "domainColor": "#dedede", "labels": false, "ticks": false, "grid": false, "title": null}}}},
  {"mark": {"type": "text", "align": "left", "baseline": "middle", "fontSize": 23, "dx": -67.1}, "encoding": {"text": {"field": "val"}, "x": {"datum": 0.5, "type": "quantitative"}, "y": {"datum": 0.5, "type": "quantitative"},
   "color": {"field": "d", "type": "nominal", "scale": {"domain": ["up", "down", "flat"], "range": ["#e0403b", "#3fa535", "#222222"]}, "legend": null}}}
 ]},
 {"width": 371.5, "height": 63, "data": {"values": [{"n": "日經", "val": "39336.39 ▲205.96", "d": "up"}]}, "layer": [
  {"mark": {"type": "text", "align": "right", "baseline": "middle", "fontSize": 23, "color": "#2353a3", "dx": -117.95}, "encoding": {"text": {"field": "n"},
   "x": {"datum": 0.5, "type": "quantitative", "scale": {"domain": [0, 1]}, "axis": {"orient": "top", "domain": true, "domainColor": "#e4e4e4", "domainWidth": 1, "labels": false, "ticks": false, "grid": false, "title": null}},
   "y": {"datum": 0.5, "type": "quantitative", "scale": {"domain": [0, 1], "range": [48, 15]}, "axis": {"orient": "left", "domain": true, "domainColor": "#dedede", "labels": false, "ticks": false, "grid": false, "title": null}}}},
  {"mark": {"type": "text", "align": "left", "baseline": "middle", "fontSize": 23, "dx": -109.95}, "encoding": {"text": {"field": "val"}, "x": {"datum": 0.5, "type": "quantitative"}, "y": {"datum": 0.5, "type": "quantitative"},
   "color": {"field": "d", "type": "nominal", "scale": {"domain": ["up", "down", "flat"], "range": ["#e0403b", "#3fa535", "#222222"]}, "legend": null}}}
 ]}
], "spacing": 0, "bounds": "flush"},
{"width": 1752, "height": 24, "view": {"fill": "#f4f4f4", "stroke": null}, "data": {"values": [{}]}, "mark": {"type": "rect", "fill": {"gradient": "linear", "x1": 0, "y1": 0, "x2": 0, "y2": 1, "stops": [{"offset": 0, "color": "#e6e6e6"}, {"offset": 0.45, "color": "#f1f1f1"}, {"offset": 1, "color": "#f5f5f5"}]}}, "encoding": {}},
{"width": 1752, "height": 96, "layer": [
 {"data": {"values": [{"t": "類股漲跌"}]}, "mark": {"type": "text", "align": "left", "baseline": "middle", "fontSize": 25, "color": "#222222"}, "encoding": {"text": {"field": "t"}, "x": {"value": 18}, "y": {"value": 56}}},
 {"data": {"values": [{"t": "上市"}]}, "mark": {"type": "text", "align": "left", "baseline": "middle", "fontSize": 22, "color": "#e0403b"}, "encoding": {"text": {"field": "t"}, "x": {"value": 164}, "y": {"value": 56}}},
 {"data": {"values": [{"t": "上櫃"}]}, "mark": {"type": "text", "align": "left", "baseline": "middle", "fontSize": 22, "color": "#222222"}, "encoding": {"text": {"field": "t"}, "x": {"value": 248}, "y": {"value": 56}}},
 {"data": {"values": [{}]}, "mark": {"type": "rule", "color": "#e2e2e2", "strokeWidth": 1}, "encoding": {"x": {"value": 228}, "y": {"value": 44}, "y2": {"value": 68}}},
 {"data": {"values": [{}]}, "mark": {"type": "rule", "color": "#e0403b", "strokeWidth": 3.5}, "encoding": {"x": {"value": 145}, "x2": {"value": 228}, "y": {"value": 84}}},
 {"data": {"values": [{"t": "資金流向"}]}, "mark": {"type": "text", "align": "left", "baseline": "middle", "fontSize": 25, "color": "#222222"}, "encoding": {"text": {"field": "t"}, "x": {"value": 1199}, "y": {"value": 56}}},
 {"data": {"values": [{"t": "上市"}]}, "mark": {"type": "text", "align": "left", "baseline": "middle", "fontSize": 22, "color": "#e0403b"}, "encoding": {"text": {"field": "t"}, "x": {"value": 1346}, "y": {"value": 56}}},
 {"data": {"values": [{"t": "上櫃"}]}, "mark": {"type": "text", "align": "left", "baseline": "middle", "fontSize": 22, "color": "#222222"}, "encoding": {"text": {"field": "t"}, "x": {"value": 1430}, "y": {"value": 56}}},
 {"data": {"values": [{}]}, "mark": {"type": "rule", "color": "#e2e2e2", "strokeWidth": 1}, "encoding": {"x": {"value": 1410}, "y": {"value": 44}, "y2": {"value": 68}}},
 {"data": {"values": [{}]}, "mark": {"type": "rule", "color": "#e0403b", "strokeWidth": 3.5}, "encoding": {"x": {"value": 1326}, "x2": {"value": 1410}, "y": {"value": 84}}}
]},
{"hconcat": [
 {"width": 17, "height": 1, "data": {"values": []}, "mark": "point"},
 {"hconcat": [
  {"width": 272, "height": 450, "data": {"name": "sectors"}, "transform": [{"filter": {"field": "name", "oneOf": ["光電", "化學生醫", "其它電子"]}}],
   "encoding": {"y": {"field": "name", "type": "nominal", "sort": ["光電", "化學生醫", "其它電子"], "scale": {"paddingInner": 0.0874, "paddingOuter": 0}, "axis": null}},
   "layer": [
    {"mark": {"type": "rect", "color": "#f7f7f7"}},
    {"transform": [{"filter": "datum.box && !test(/^[A-Z]/, datum.lead)"}], "mark": {"type": "point", "shape": "M-1,-0.163L1,-0.163L1,0.163L-1,0.163Z", "size": 29584, "filled": true, "opacity": 1, "color": "#e3463f", "strokeWidth": 0, "yOffset": 38.5}},
    {"transform": [{"filter": "datum.box && test(/^[A-Z]/, datum.lead)"}], "mark": {"type": "point", "shape": "M-1,-0.1535L1,-0.1535L1,0.1535L-1,0.1535Z", "size": 34225, "filled": true, "opacity": 1, "color": "#e3463f", "strokeWidth": 0, "yOffset": 38.5}},
    {"mark": {"type": "text", "fontSize": 25, "color": "#222222", "dy": -37, "baseline": "middle"}, "encoding": {"text": {"field": "name"}}},
    {"mark": {"type": "text", "fontSize": 30, "dy": 1.5, "baseline": "middle"}, "encoding": {"text": {"field": "pl"}, "color": {"condition": {"test": "datum.pct > 0", "value": "#e0403b"}, "value": "#3fa535"}}},
    {"mark": {"type": "text", "fontSize": 21.5, "dy": 38.5, "baseline": "middle"}, "encoding": {"text": {"field": "lead"}, "color": {"condition": {"test": "datum.box", "value": "#ffffff"}, "value": "#666666"}}}
   ]},
  {"width": 272, "height": 450, "data": {"name": "sectors"}, "transform": [{"filter": {"field": "name", "oneOf": ["生技醫療", "電零組", "其他"]}}],
   "encoding": {"y": {"field": "name", "type": "nominal", "sort": ["生技醫療", "電零組", "其他"], "scale": {"paddingInner": 0.0874, "paddingOuter": 0}, "axis": null}},
   "layer": [
    {"mark": {"type": "rect", "color": "#f7f7f7"}},
    {"transform": [{"filter": "datum.box && !test(/^[A-Z]/, datum.lead)"}], "mark": {"type": "point", "shape": "M-1,-0.163L1,-0.163L1,0.163L-1,0.163Z", "size": 29584, "filled": true, "opacity": 1, "color": "#e3463f", "strokeWidth": 0, "yOffset": 38.5}},
    {"transform": [{"filter": "datum.box && test(/^[A-Z]/, datum.lead)"}], "mark": {"type": "point", "shape": "M-1,-0.1535L1,-0.1535L1,0.1535L-1,0.1535Z", "size": 34225, "filled": true, "opacity": 1, "color": "#e3463f", "strokeWidth": 0, "yOffset": 38.5}},
    {"mark": {"type": "text", "fontSize": 25, "color": "#222222", "dy": -37, "baseline": "middle"}, "encoding": {"text": {"field": "name"}}},
    {"mark": {"type": "text", "fontSize": 30, "dy": 1.5, "baseline": "middle"}, "encoding": {"text": {"field": "pl"}, "color": {"condition": {"test": "datum.pct > 0", "value": "#e0403b"}, "value": "#3fa535"}}},
    {"mark": {"type": "text", "fontSize": 21.5, "dy": 38.5, "baseline": "middle"}, "encoding": {"text": {"field": "lead"}, "color": {"condition": {"test": "datum.box", "value": "#ffffff"}, "value": "#666666"}}}
   ]},
  {"width": 272, "height": 450, "data": {"name": "sectors"}, "transform": [{"filter": {"field": "name", "oneOf": ["玻璃", "食品", "居家生活"]}}],
   "encoding": {"y": {"field": "name", "type": "nominal", "sort": ["玻璃", "食品", "居家生活"], "scale": {"paddingInner": 0.0874, "paddingOuter": 0}, "axis": null}},
   "layer": [
    {"mark": {"type": "rect", "color": "#f7f7f7"}},
    {"mark": {"type": "text", "fontSize": 25, "color": "#222222", "dy": -37, "baseline": "middle"}, "encoding": {"text": {"field": "name"}}},
    {"mark": {"type": "text", "fontSize": 30, "dy": 1.5, "baseline": "middle"}, "encoding": {"text": {"field": "pl"}, "color": {"condition": {"test": "datum.pct > 0", "value": "#e0403b"}, "value": "#3fa535"}}},
    {"mark": {"type": "text", "fontSize": 21.5, "dy": 38.5, "baseline": "middle"}, "encoding": {"text": {"field": "lead"}, "color": {"condition": {"test": "datum.box", "value": "#ffffff"}, "value": "#666666"}}}
   ]},
  {"width": 272, "height": 450, "data": {"name": "sectors"}, "transform": [{"filter": {"field": "name", "oneOf": ["橡膠", "運動休閒", "數位雲端"]}}],
   "encoding": {"y": {"field": "name", "type": "nominal", "sort": ["橡膠", "運動休閒", "數位雲端"], "scale": {"paddingInner": 0.0874, "paddingOuter": 0}, "axis": null}},
   "layer": [
    {"mark": {"type": "rect", "color": "#f7f7f7"}},
    {"mark": {"type": "text", "fontSize": 25, "color": "#222222", "dy": -37, "baseline": "middle"}, "encoding": {"text": {"field": "name"}}},
    {"mark": {"type": "text", "fontSize": 30, "dy": 1.5, "baseline": "middle"}, "encoding": {"text": {"field": "pl"}, "color": {"condition": {"test": "datum.pct > 0", "value": "#e0403b"}, "value": "#3fa535"}}},
    {"mark": {"type": "text", "fontSize": 21.5, "dy": 38.5, "baseline": "middle"}, "encoding": {"text": {"field": "lead"}, "color": {"condition": {"test": "datum.box", "value": "#ffffff"}, "value": "#666666"}}}
   ]}
 ], "spacing": 14, "bounds": "flush"},
 {"vconcat": [
  {"width": 297, "height": 23, "data": {"values": []}, "mark": "point"},
  {"width": 297, "height": 409, "data": {"name": "flow"},
   "encoding": {"y": {"field": "s", "type": "nominal", "sort": null, "scale": {"paddingInner": 0, "paddingOuter": 0}, "axis": {"title": null, "ticks": false, "domain": true, "domainColor": "#e2e2e2", "grid": true, "gridColor": "#ececec", "tickBand": "extent", "labelPadding": 24, "labelFontSize": 21.5, "labelColor": "#3a3a3a"}}},
   "layer": [
    {"mark": {"type": "bar", "color": "#5284e9", "height": 24}, "encoding": {"x": {"field": "share", "type": "quantitative", "scale": {"domain": [0, 100], "nice": false}, "axis": null}}},
    {"mark": {"type": "text", "align": "left", "baseline": "middle", "dx": 10, "fontSize": 21.5, "color": "#555555"}, "encoding": {"x": {"field": "share", "type": "quantitative"}, "text": {"field": "sl"}}},
    {"mark": {"type": "text", "align": "right", "baseline": "middle", "fontSize": 22}, "encoding": {"x": {"value": 410}, "text": {"field": "cl"}, "color": {"condition": {"test": "datum.chg > 0", "value": "#e0403b"}, "value": "#3fa535"}}},
    {"data": {"values": [{"t": "較前一日"}]}, "mark": {"type": "text", "align": "right", "baseline": "top", "fontSize": 19, "color": "#666666"}, "encoding": {"text": {"field": "t"}, "x": {"value": 409}, "y": {"value": -23}}},
    {"data": {"values": [{}]}, "mark": {"type": "rule", "opacity": 0}, "encoding": {"x": {"value": -181}, "x2": {"value": 0}, "y": {"value": -23}}}
   ]}
 ], "spacing": 0, "bounds": "flush"}
], "spacing": 0, "bounds": "full"}
]
}
